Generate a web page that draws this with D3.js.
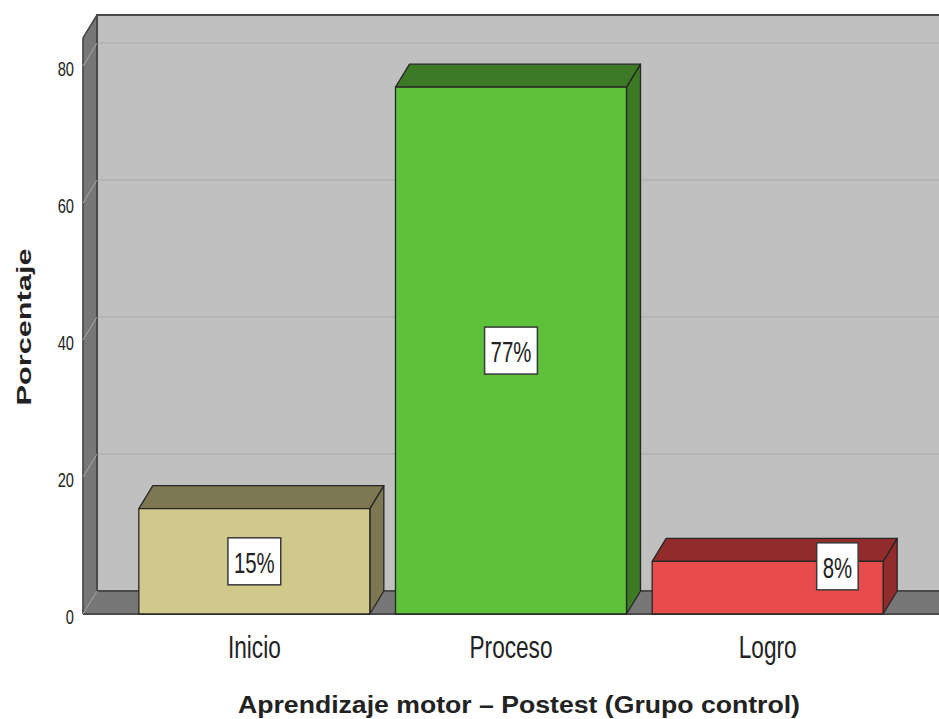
<!DOCTYPE html>
<html>
<head>
<meta charset="utf-8">
<script src="https://cdn.jsdelivr.net/npm/d3@7/dist/d3.min.js"></script>
<style>
  html, body { margin: 0; padding: 0; background: #ffffff; }
  svg { display: block; }
  text { font-family: "Liberation Sans", Arial, sans-serif; fill: #222; }
</style>
</head>
<body>
<svg id="chart" width="939" height="719"></svg>
<script>
// Aprendizaje motor – Postest (Grupo control): percentage per level
const categories = ["Inicio", "Proceso", "Logro"];
const percentages = [15.38, 76.92, 7.69];
const valueLabels = ["15%", "77%", "8%"];
const yTicks = [0, 20, 40, 60, 80];
const frontColors = ["#d0c98b", "#5dc13a", "#e84b4b"];
const shadeColors = ["#7e7852", "#3c7a26", "#922c2c"];
const xTitle = "Aprendizaje motor – Postest (Grupo control)";
const yTitle = "Porcentaje";

const W = 939, H = 719;
const svg = d3.select("#chart");

// 3D depth offset of the back plane
const DX = 14, DY = -23;
const left = 83, right = W;

const y = d3.scaleLinear().domain([0, 84.1]).range([614, 38]);
const x = d3.scaleBand().domain(categories).range([126, 896])
  .paddingInner(0.1).paddingOuter(0.05);

const y0 = y(0), yTop = y(84.1);

// back wall
svg.append("rect")
  .attr("x", left + DX).attr("y", yTop + DY)
  .attr("width", right - left - DX).attr("height", y0 - yTop)
  .attr("fill", "#c0c0c0");

// gridlines on back wall
const grid = svg.append("g");
yTicks.filter(d => d > 0).forEach(v => {
  grid.append("line")
    .attr("x1", left + DX).attr("x2", right)
    .attr("y1", y(v) + DY).attr("y2", y(v) + DY)
    .attr("stroke", "#b4b4b4").attr("stroke-width", 2);
});

// left wall
svg.append("path")
  .attr("d", `M${left},${yTop} L${left + DX},${yTop + DY} L${left + DX},${y0 + DY} L${left},${y0} Z`)
  .attr("fill", "#777777").attr("stroke", "#555").attr("stroke-width", 1);

// floor
svg.append("path")
  .attr("d", `M${left},${y0} L${left + DX},${y0 + DY} L${right},${y0 + DY} L${right},${y0} Z`)
  .attr("fill", "#777777");

// edges of back wall, floor and left wall
svg.append("path")
  .attr("d", `M${right},${yTop + DY} L${left + DX},${yTop + DY} L${left + DX},${y0 + DY} L${right},${y0 + DY}`)
  .attr("fill", "none").attr("stroke", "#4a4a4a").attr("stroke-width", 2);
svg.append("line")
  .attr("x1", left).attr("x2", right).attr("y1", y0).attr("y2", y0)
  .attr("stroke", "#4a4a4a").attr("stroke-width", 2);
svg.append("line")
  .attr("x1", left).attr("x2", left).attr("y1", yTop).attr("y2", y0)
  .attr("stroke", "#4a4a4a").attr("stroke-width", 1.5);
svg.append("line")
  .attr("x1", left).attr("x2", left + DX).attr("y1", yTop).attr("y2", yTop + DY)
  .attr("stroke", "#4a4a4a").attr("stroke-width", 1.5);

// diagonal tick lines on the left wall
yTicks.forEach(v => {
  svg.append("line")
    .attr("x1", left).attr("y1", y(v))
    .attr("x2", left + DX).attr("y2", y(v) + DY)
    .attr("stroke", "#a8a8a8").attr("stroke-width", 1);
});

// bars: side face, top face, front face
const bars = svg.append("g");
categories.forEach((c, i) => {
  const x0 = x(c), x1 = x(c) + x.bandwidth();
  const yt = y(percentages[i]);
  const g = bars.append("g").attr("stroke", "#262626").attr("stroke-width", 1.3)
    .attr("stroke-linejoin", "round");
  g.append("path")
    .attr("d", `M${x1},${yt} L${x1 + DX},${yt + DY} L${x1 + DX},${y0 + DY} L${x1},${y0} Z`)
    .attr("fill", shadeColors[i]);
  g.append("path")
    .attr("d", `M${x0},${yt} L${x0 + DX},${yt + DY} L${x1 + DX},${yt + DY} L${x1},${yt} Z`)
    .attr("fill", shadeColors[i]);
  g.append("rect")
    .attr("x", x0).attr("y", yt).attr("width", x1 - x0).attr("height", y0 - yt)
    .attr("fill", frontColors[i]);
});

// value labels in boxes
const narrow = 0.68;
categories.forEach((c, i) => {
  const x0 = x(c), x1 = x(c) + x.bandwidth();
  const yt = y(percentages[i]);
  const g = svg.append("g");
  const t = g.append("text")
    .attr("font-size", 30).attr("text-anchor", "middle")
    .attr("dominant-baseline", "central")
    .attr("transform", `scale(${narrow},1)`)
    .attr("fill", "#2a2a2a")
    .text(valueLabels[i]);
  const tw = t.node().getComputedTextLength() * narrow;
  const bw = tw + 12, bh = 47;
  let cx = (x0 + x1) / 2, cy = (yt + y0) / 2;
  if (y0 - yt < bh + 6) {
    // bar too short: place box near its top right corner
    cx = x1 - 25 - bw / 2;
    cy = yt + 5;
  }
  g.insert("rect", "text")
    .attr("x", cx - bw / 2).attr("y", cy - bh / 2)
    .attr("width", bw).attr("height", bh)
    .attr("fill", "#ffffff").attr("stroke", "#3a3a3a").attr("stroke-width", 1.5);
  t.attr("x", cx / narrow).attr("y", cy + 1);
});

// y tick labels
yTicks.forEach(v => {
  svg.append("text")
    .attr("font-size", 21).attr("text-anchor", "end")
    .attr("dominant-baseline", "central")
    .attr("transform", `translate(74,${y(v) + 3}) scale(0.7,1)`)
    .attr("fill", "#333")
    .text(v);
});

// category labels
categories.forEach(c => {
  svg.append("text")
    .attr("font-size", 31).attr("text-anchor", "middle")
    .attr("transform", `translate(${x(c) + x.bandwidth() / 2},658) scale(0.73,1)`)
    .attr("fill", "#333")
    .text(c);
});

// axis titles
svg.append("text")
  .attr("x", 519).attr("y", 713)
  .attr("font-size", 23).attr("font-weight", "bold").attr("text-anchor", "middle")
  .attr("textLength", 562).attr("lengthAdjust", "spacingAndGlyphs")
  .attr("fill", "#111")
  .text(xTitle);

svg.append("text")
  .attr("transform", "translate(31,327) rotate(-90)")
  .attr("font-size", 21).attr("font-weight", "bold").attr("text-anchor", "middle")
  .attr("textLength", 157).attr("lengthAdjust", "spacingAndGlyphs")
  .attr("fill", "#111")
  .text(yTitle);
</script>
</body>
</html>
